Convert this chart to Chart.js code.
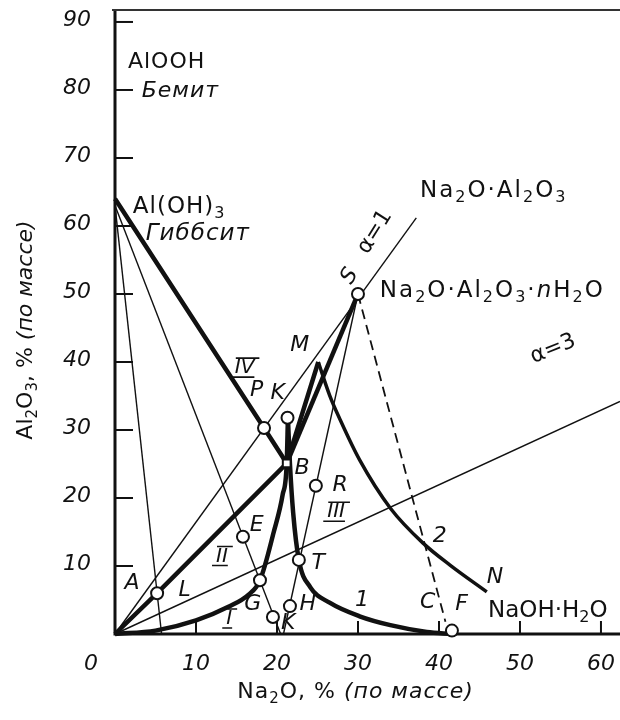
<!DOCTYPE html>
<html>
<head>
<meta charset="utf-8">
<script src="https://cdn.jsdelivr.net/npm/chart.js@4/dist/chart.umd.min.js"></script>
<style>
  html, body { margin: 0; padding: 0; background: #fff; }
  canvas { display: block; }
</style>
</head>
<body>
<canvas id="c" width="620" height="720"></canvas>
<script>
// ---- Na2O–Al2O3–H2O system, mass % ----

// axis ticks
const xTickValues = [0, 10, 20, 30, 40, 50, 60];
const xTickLabels = ['0', '10', '20', '30', '40', '50', '60'];
const yTickValues = [10, 20, 30, 40, 50, 60, 70, 80, 90];
const yTickLabels = ['10', '20', '30', '40', '50', '60', '70', '80', '90'];

// isotherm 1: gibbsite branch (O–G–B–K) and aluminate branch (K–B–T–F)
const iso1RiseNa2O  = [0, 5, 10, 14, 16.5, 17.9, 19.6, 20.7, 21.2, 21.35];
const iso1RiseAl2O3 = [0, 0.5, 2.0, 4.0, 5.8, 7.9, 15.0, 20.5, 25.1, 31.8];
const iso1FallNa2O  = [21.35, 21.6, 22.0, 22.7, 24.1, 26.5, 30.2, 34.0, 38.5, 41.6];
const iso1FallAl2O3 = [31.8, 25.0, 17.8, 10.9, 6.9, 4.6, 2.6, 1.3, 0.3, 0];

// isotherm 2: O–L–B–M and M–N
const iso2RiseNa2O  = [0, 5.2, 21.2, 25.1];
const iso2RiseAl2O3 = [0, 6.0, 25.1, 40.0];
const iso2FallNa2O  = [25.1, 26.5, 27.8, 30.2, 34.0, 38.0, 41.4, 45.9];
const iso2FallAl2O3 = [40.0, 35.1, 31.5, 25.6, 18.5, 13.4, 10.1, 6.2];

// tie lines from solid phases
const gibbsiteTieNa2O  = [0, 18.4, 21.2];
const gibbsiteTieAl2O3 = [64, 30.3, 25.1];
const aluminateTieNa2O  = [30, 21.2];
const aluminateTieAl2O3 = [50, 25.1];

// caustic ratio rays and construction lines
const alpha1Na2O  = [0, 37.2];
const alpha1Al2O3 = [0, 61.2];
const alpha3Na2O  = [0, 62.35];
const alpha3Al2O3 = [0, 34.2];
const rayLNa2O  = [0, 5.75];
const rayLAl2O3 = [63, 0];
const rayENa2O  = [0, 20.45];
const rayEAl2O3 = [63, 0];
const raySNa2O  = [30, 20.8];
const raySAl2O3 = [50, 0];
const dashSCNa2O  = [30, 40.8];
const dashSCAl2O3 = [50, 1.8];

// marked compositions
const pointNames = ['S', 'P', 'K', 'B', 'R', 'E', 'T', 'G', 'L', 'H', 'K', 'F'];
const pointNa2O  = [30, 18.4, 21.3, 21.2, 24.8, 15.8, 22.7, 17.9, 5.2, 21.6, 19.5, 41.6];
const pointAl2O3 = [50, 30.3, 31.8, 25.1, 21.8, 14.3, 10.9, 7.9, 6.0, 4.1, 2.5, 0.5];

// letter annotations
const letterText  = ['M', 'P', 'K', 'B', 'R', 'E', 'T', 'A', 'L', 'G', 'H', 'K', '1', '2', 'N', 'C', 'F'];
const letterNa2O  = [22.8, 17.5, 20.1, 23.1, 27.8, 17.5, 25.1, 2.1, 8.6, 17.0, 23.8, 21.4, 30.5, 40.1, 46.9, 38.6, 42.8];
const letterAl2O3 = [42.5, 35.9, 35.4, 24.4, 21.9, 16.0, 10.4, 7.5, 6.5, 4.3, 4.3, 1.6, 5.0, 14.3, 8.4, 4.6, 4.3];

// field numerals
const fieldText  = ['IV', 'III', 'II', 'I'];
const fieldNa2O  = [16.0, 27.3, 13.2, 14.1];
const fieldAl2O3 = [39.1, 17.9, 11.4, 2.2];

const zip = (xs, ys) => xs.map((x, i) => ({ x, y: ys[i] }));

const INK = '#111';
const FAM = '"DejaVu Sans", "Liberation Sans", sans-serif';

function thick(data, extra) {
  return Object.assign({ data, showLine: true, borderColor: INK, borderWidth: 4.5,
    pointRadius: 0, tension: 0, clip: false, order: 2, borderJoinStyle: 'round' }, extra || {});
}
function thin(data, extra) {
  return Object.assign({ data, showLine: true, borderColor: INK, borderWidth: 1.4,
    pointRadius: 0, tension: 0, clip: false, order: 3 }, extra || {});
}

// text with subscripts / italics: parts = [[text, 'n'|'s'|'i'], ...]
function fontFor(k, size) {
  if (k === 's') return `${Math.round(size * 0.68)}px ${FAM}`;
  if (k === 'i') return `italic ${size}px ${FAM}`;
  return `${size}px ${FAM}`;
}
function richWidth(ctx, parts, size) {
  let w = 0;
  for (const [t, k] of parts) {
    ctx.font = fontFor(k, size);
    w += ctx.measureText(t).width;
  }
  return w;
}
function drawRich(ctx, parts, x, y, size, align, spacing) {
  ctx.save();
  ctx.letterSpacing = (spacing || 0) + 'px';
  let cx = x;
  if (align === 'center') cx = x - richWidth(ctx, parts, size) / 2;
  ctx.textAlign = 'left';
  ctx.textBaseline = 'alphabetic';
  for (const [t, k] of parts) {
    ctx.font = fontFor(k, size);
    ctx.fillText(t, cx, k === 's' ? y + size * 0.22 : y);
    cx += ctx.measureText(t).width;
  }
  ctx.restore();
}

const diagram = {
  id: 'diagram',
  beforeDatasetsDraw(chart) {
    const { ctx, chartArea: a, scales: { x, y } } = chart;
    ctx.save();
    ctx.strokeStyle = INK;
    ctx.lineCap = 'butt';
    // frame
    ctx.lineWidth = 3;
    ctx.beginPath();
    ctx.moveTo(a.left, a.top);
    ctx.lineTo(a.left, a.bottom);
    ctx.lineTo(a.right, a.bottom);
    ctx.stroke();
    ctx.lineWidth = 2;
    ctx.strokeStyle = '#333';
    ctx.beginPath();
    ctx.moveTo(a.left - 3, a.top);
    ctx.lineTo(a.right, a.top);
    ctx.stroke();
    // inward ticks
    ctx.strokeStyle = INK;
    ctx.lineWidth = 2;
    for (const v of yTickValues) {
      const py = y.getPixelForValue(v);
      ctx.beginPath();
      ctx.moveTo(a.left, py);
      ctx.lineTo(a.left + 18, py);
      ctx.stroke();
    }
    for (const v of xTickValues.slice(1)) {
      const px = x.getPixelForValue(v);
      ctx.beginPath();
      ctx.moveTo(px, a.bottom);
      ctx.lineTo(px, a.bottom - 13);
      ctx.stroke();
    }
    // tick labels
    ctx.fillStyle = INK;
    ctx.font = `italic 22px ${FAM}`;
    ctx.textAlign = 'right';
    ctx.textBaseline = 'middle';
    yTickValues.forEach((v, i) => ctx.fillText(yTickLabels[i], a.left - 24, y.getPixelForValue(v) - 2));
    ctx.textAlign = 'center';
    xTickValues.forEach((v, i) => {
      const px = x.getPixelForValue(v) - (v === 0 ? 24 : 0);
      ctx.fillText(xTickLabels[i], px, a.bottom + 30);
    });
    // axis titles
    drawRich(ctx, [['Na', 'n'], ['2', 's'], ['O, % ', 'n'], ['(по массе)', 'i']],
      (a.left + a.right) / 2 - 12, a.bottom + 64, 22, 'center', 1);
    ctx.save();
    ctx.translate(32, 330);
    ctx.rotate(-Math.PI / 2);
    drawRich(ctx, [['Al', 'n'], ['2', 's'], ['O', 'n'], ['3', 's'], [', % ', 'n'], ['(по массе)', 'i']],
      0, 0, 22, 'center');
    ctx.restore();
    ctx.restore();
  },
  afterDatasetsDraw(chart) {
    const { ctx, scales: { x, y } } = chart;
    const X = v => x.getPixelForValue(v);
    const Y = v => y.getPixelForValue(v);
    ctx.save();
    ctx.fillStyle = INK;
    ctx.strokeStyle = INK;

    // phase names
    drawRich(ctx, [['AlOOH', 'n']], X(1.6), Y(83.2), 22, 'left', 1);
    drawRich(ctx, [['Бемит', 'i']], X(3.3), Y(79.0), 22, 'left', 1);
    drawRich(ctx, [['Al(OH)', 'n'], ['3', 's']], X(2.2), Y(61.9), 23, 'left', 1);
    drawRich(ctx, [['Гиббсит', 'i']], X(3.8), Y(57.9), 23, 'left', 1);
    drawRich(ctx, [['Na', 'n'], ['2', 's'], ['O·Al', 'n'], ['2', 's'], ['O', 'n'], ['3', 's']],
      X(37.65), Y(64.3), 23, 'left', 2);
    drawRich(ctx, [['Na', 'n'], ['2', 's'], ['O·Al', 'n'], ['2', 's'], ['O', 'n'], ['3', 's'],
      ['·', 'n'], ['n', 'i'], ['H', 'n'], ['2', 's'], ['O', 'n']], X(32.7), Y(49.6), 23, 'left', 2);
    drawRich(ctx, [['NaOH·H', 'n'], ['2', 's'], ['O', 'n']], X(46.05), Y(2.5), 23, 'left', 0);

    // letters
    ctx.font = `italic 22px ${FAM}`;
    ctx.textAlign = 'center';
    ctx.textBaseline = 'middle';
    letterText.forEach((t, i) => ctx.fillText(t, X(letterNa2O[i]), Y(letterAl2O3[i])));

    // field numerals with bars
    ctx.font = `italic 20px ${FAM}`;
    ctx.lineWidth = 1.6;
    fieldText.forEach((t, i) => {
      const cx = X(fieldNa2O[i]), cy = Y(fieldAl2O3[i]);
      ctx.fillText(t, cx, cy);
      const w = ctx.measureText(t).width + 4;
      ctx.beginPath();
      ctx.moveTo(cx - w / 2 + 3, cy - 10);
      ctx.lineTo(cx + w / 2 + 3, cy - 10);
      ctx.moveTo(cx - w / 2 - 2, cy + 9);
      ctx.lineTo(cx + w / 2 - 2, cy + 9);
      ctx.stroke();
    });

    // labels along the caustic-ratio rays
    ctx.save();
    ctx.translate(X(29.0), Y(52.6));
    ctx.rotate(-58 * Math.PI / 180);
    ctx.font = `italic 22px ${FAM}`;
    ctx.fillText('S', 0, 0);
    ctx.restore();
    ctx.save();
    ctx.translate(X(32.1), Y(59.1));
    ctx.rotate(-58 * Math.PI / 180);
    ctx.font = `22px ${FAM}`;
    ctx.fillText('α=1', 0, 0);
    ctx.restore();
    ctx.save();
    ctx.translate(X(54.1), Y(41.9));
    ctx.rotate(-22 * Math.PI / 180);
    ctx.font = `22px ${FAM}`;
    ctx.fillText('α=3', 0, 0);
    ctx.restore();

    ctx.restore();
  }
};

new Chart(document.getElementById('c'), {
  type: 'scatter',
  data: {
    datasets: [
      { data: zip(pointNa2O, pointAl2O3), showLine: false, order: 0,
        pointStyle: pointNames.map(n => n === 'B' ? 'rect' : 'circle'),
        pointRadius: pointNames.map(n => n === 'B' ? 5.5 : 6),
        pointBackgroundColor: '#fff', pointBorderColor: INK, pointBorderWidth: 2, clip: false },
      thick(zip(iso1RiseNa2O, iso1RiseAl2O3), { cubicInterpolationMode: 'monotone' }),
      thick(zip(iso1FallNa2O, iso1FallAl2O3), { cubicInterpolationMode: 'monotone' }),
      thick(zip(iso2RiseNa2O, iso2RiseAl2O3)),
      thick(zip(iso2FallNa2O, iso2FallAl2O3), { cubicInterpolationMode: 'monotone', borderWidth: 3.5 }),
      thick(zip(gibbsiteTieNa2O, gibbsiteTieAl2O3)),
      thick(zip(aluminateTieNa2O, aluminateTieAl2O3)),
      thin(zip(alpha1Na2O, alpha1Al2O3)),
      thin(zip(alpha3Na2O, alpha3Al2O3)),
      thin(zip(rayLNa2O, rayLAl2O3)),
      thin(zip(rayENa2O, rayEAl2O3)),
      thin(zip(raySNa2O, raySAl2O3)),
      thin(zip(dashSCNa2O, dashSCAl2O3), { borderDash: [10, 6], borderWidth: 1.8 })
    ]
  },
  options: {
    responsive: false,
    animation: false,
    devicePixelRatio: 1,
    layout: { autoPadding: false, padding: { left: 115, right: 0, top: 10, bottom: 86 } },
    scales: {
      x: { type: 'linear', min: 0, max: 62.35, display: false },
      y: { type: 'linear', min: 0, max: 91.76, display: false }
    },
    plugins: { legend: { display: false }, tooltip: { enabled: false } },
    elements: { line: { borderCapStyle: 'butt' } }
  },
  plugins: [diagram]
});
</script>
</body>
</html>
